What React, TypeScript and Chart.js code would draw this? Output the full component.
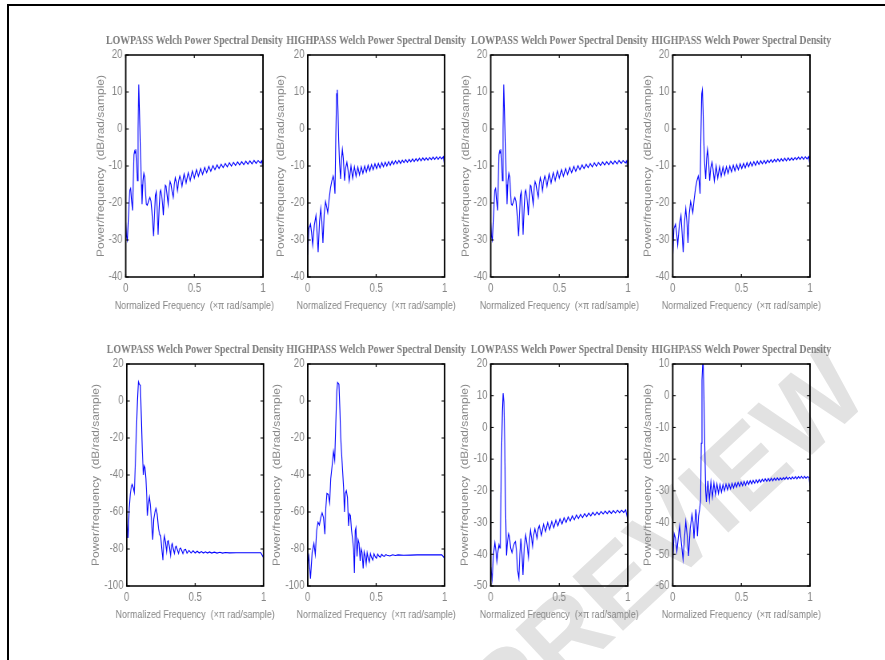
import { useEffect, useRef } from "react";
import { Chart, registerables } from "chart.js";

Chart.register(...registerables);

// ---------------- data ----------------
const xTickValues = [0, 0.5, 1];
const xTickLabels = ["0", "0.5", "1"];

const yTicksTop = [20, 10, 0, -10, -20, -30, -40];
const yTicksDeep = [20, 0, -20, -40, -60, -80, -100];
const yTicksLow = [20, 10, 0, -10, -20, -30, -40, -50];
const yTicksHigh = [10, 0, -10, -20, -30, -40, -50, -60];

const lowpassTitle = "LOWPASS Welch Power Spectral Density";
const highpassTitle = "HIGHPASS Welch Power Spectral Density";
const xAxisTitle = "Normalized Frequency  (\u00d7\u03c0 rad/sample)";
const yAxisTitle = "Power/frequency  (dB/rad/sample)";
const watermarkText = "PREVIEW";

// top row lowpass (panels 1 and 3)
const lpTopFreq = [
  0, 0.006, 0.012, 0.018, 0.024, 0.03, 0.036, 0.042, 0.049, 0.055, 0.06, 0.065, 0.069, 0.073, 0.079, 0.085,
  0.09, 0.095, 0.1, 0.108, 0.114, 0.119, 0.126, 0.132, 0.138, 0.144, 0.15, 0.156, 0.162, 0.168, 0.176, 0.184,
  0.19, 0.197, 0.203, 0.209, 0.216, 0.222, 0.228, 0.236, 0.243, 0.25, 0.254, 0.262, 0.268, 0.274, 0.281, 0.288,
  0.294, 0.302, 0.309, 0.316, 0.323, 0.33, 0.338, 0.346, 0.354, 0.361, 0.369, 0.377, 0.386, 0.394, 0.402, 0.41,
  0.425, 0.44, 0.455, 0.47, 0.485, 0.5, 0.515, 0.53, 0.545, 0.56, 0.575, 0.59, 0.605, 0.62, 0.635, 0.65,
  0.665, 0.68, 0.695, 0.71, 0.725, 0.74, 0.755, 0.77, 0.785, 0.8, 0.815, 0.83, 0.845, 0.86, 0.875, 0.89,
  0.905, 0.92, 0.935, 0.95, 0.965, 0.98, 0.99, 1.0,
];
const lpTopDb = [
  -25, -29, -30, -25, -20, -16.5, -16, -19, -22, -14, -7, -6, -6.5, -5.5, -10, -14,
  0, 12, 5, -8, -15, -20.3, -14, -12, -13, -17, -20.3, -20.6, -20, -19.2, -18.5, -19.5,
  -22, -26, -29, -24, -18, -17, -21, -28.6, -22, -17, -16.5, -18, -20, -23.3, -18, -15.2,
  -15.5, -18, -20.3, -16, -14.2, -15, -17, -18.5, -15, -13.2, -14.5, -16.7, -14, -12.7, -13.8, -15.5,
  -12.2, -14.6, -11.8, -14.0, -11.4, -13.3, -11.0, -12.8, -10.7, -12.3, -10.4, -11.8, -10.1, -11.4, -9.9, -11.0,
  -9.7, -10.7, -9.5, -10.4, -9.3, -10.2, -9.1, -10.0, -9.0, -9.8, -8.9, -9.7, -8.8, -9.6, -8.7, -9.5,
  -8.6, -9.4, -8.5, -9.3, -8.5, -9.2, -8.6, -10.5,
];

// top row highpass (panels 2 and 4)
const hpTopFreq = [
  0, 0.008, 0.02, 0.028, 0.036, 0.048, 0.06, 0.068, 0.076, 0.086, 0.095, 0.103, 0.111, 0.12, 0.13, 0.138,
  0.146, 0.156, 0.166, 0.176, 0.186, 0.192, 0.199, 0.205, 0.211, 0.216, 0.221, 0.226, 0.232, 0.24, 0.247, 0.253,
  0.26, 0.269, 0.277, 0.286, 0.294, 0.303, 0.316, 0.328, 0.341, 0.353, 0.366, 0.378, 0.391, 0.403, 0.416, 0.428,
  0.441, 0.453, 0.466, 0.478, 0.491, 0.503, 0.516, 0.528, 0.541, 0.553, 0.566, 0.578, 0.591, 0.603, 0.616, 0.628,
  0.641, 0.653, 0.666, 0.678, 0.691, 0.703, 0.716, 0.728, 0.741, 0.753, 0.766, 0.778, 0.791, 0.803, 0.816, 0.828,
  0.841, 0.853, 0.866, 0.878, 0.891, 0.903, 0.916, 0.928, 0.941, 0.953, 0.966, 0.978, 0.991, 1.0,
];
const hpTopDb = [
  -34, -27, -25.7, -28, -31.3, -26, -23.4, -28, -33.3, -25, -21.5, -25, -30.8, -23, -19.6, -21,
  -22.6, -19, -16, -14, -12.7, -14, -17.5, -2, 9.5, 10.6, 5, -3, -9, -13.5, -8, -5.5,
  -8, -14, -10.5, -9, -11, -14, -10, -13.3, -10.2, -12.8, -10.3, -12.4, -10.2, -12.0, -10.0, -11.6,
  -9.8, -11.3, -9.6, -11.0, -9.4, -10.7, -9.3, -10.5, -9.1, -10.2, -9.0, -10.0, -8.8, -9.8, -8.7, -9.6,
  -8.6, -9.4, -8.5, -9.3, -8.4, -9.1, -8.3, -9.0, -8.2, -8.9, -8.1, -8.8, -8.0, -8.7, -7.9, -8.6,
  -7.8, -8.5, -7.8, -8.4, -7.7, -8.3, -7.6, -8.2, -7.5, -8.2, -7.5, -8.1, -7.5, -10,
];

// bottom row lowpass, deep stopband (panel 5)
const lpDeepFreq = [
  0, 0.01, 0.018, 0.026, 0.034, 0.04, 0.048, 0.055, 0.062, 0.07, 0.078, 0.085, 0.092, 0.1, 0.107, 0.114,
  0.121, 0.128, 0.133, 0.14, 0.146, 0.15, 0.158, 0.165, 0.172, 0.182, 0.19, 0.197, 0.206, 0.214, 0.222, 0.232,
  0.24, 0.248, 0.256, 0.264, 0.27, 0.276, 0.284, 0.291, 0.298, 0.304, 0.312, 0.32, 0.327, 0.333, 0.34, 0.348,
  0.356, 0.362, 0.37, 0.378, 0.386, 0.394, 0.402, 0.41, 0.42, 0.43, 0.44, 0.455, 0.47, 0.485, 0.5, 0.515,
  0.53, 0.545, 0.56, 0.575, 0.59, 0.605, 0.62, 0.64, 0.66, 0.68, 0.7, 0.72, 0.75, 0.8, 0.9, 0.98, 1.0,
];
const lpDeepDb = [
  -63, -74, -58, -50, -46, -45, -47, -49.5, -35, -18, 0, 10.4, 9, 8.5, -10, -28,
  -40, -35, -36, -42, -52, -62, -56, -52, -56, -66, -75, -64, -60, -58, -61, -69,
  -72, -73, -80, -86, -76, -73, -77, -81.5, -76, -75.5, -79, -83.5, -78, -77, -80, -82.5,
  -79, -78.5, -80.5, -82.5, -80, -79.5, -81, -82.5, -80.5, -80.2, -82.3, -80.8, -82.2, -81, -82.2, -81.2,
  -82.2, -81.4, -82.2, -81.5, -82.2, -81.6, -82.2, -81.7, -82.2, -81.8, -82.2, -81.9, -82.1, -82.0, -82.0, -82.0, -85,
];

// bottom row highpass, deep stopband (panel 6)
const hpDeepFreq = [
  0, 0.008, 0.02, 0.032, 0.045, 0.055, 0.065, 0.075, 0.085, 0.095, 0.105, 0.115, 0.125, 0.132, 0.14, 0.15,
  0.16, 0.168, 0.178, 0.188, 0.197, 0.205, 0.212, 0.218, 0.228, 0.235, 0.241, 0.247, 0.255, 0.262, 0.268, 0.274,
  0.282, 0.29, 0.298, 0.305, 0.312, 0.32, 0.328, 0.335, 0.341, 0.347, 0.352, 0.36, 0.368, 0.375, 0.383, 0.39,
  0.397, 0.405, 0.412, 0.42, 0.427, 0.434, 0.442, 0.45, 0.458, 0.466, 0.475, 0.484, 0.493, 0.502, 0.511, 0.52,
  0.53, 0.54, 0.55, 0.56, 0.57, 0.58, 0.6, 0.62, 0.64, 0.66, 0.7, 0.75, 0.8, 0.9, 0.98, 1.0,
];
const hpDeepDb = [
  -88, -84, -96, -82, -77, -83, -70, -65.5, -67, -63, -60.5, -63, -72, -58, -50, -50.5,
  -55, -42, -35, -27.3, -32, -12, 5, 10, 9, -5, -20, -27.7, -38, -47, -60, -50,
  -48.5, -52, -67.5, -61, -62, -70, -75, -80, -93, -70, -68.5, -84, -75, -77, -86.5, -80,
  -82, -90.5, -81.5, -84, -88, -82, -85, -87, -82.5, -84.5, -86, -82.6, -84.2, -85, -82.8, -83.8,
  -84.4, -82.9, -83.6, -84, -83, -83.4, -83.8, -83.1, -83.5, -83.2, -83.4, -83.3, -83.2, -83.2, -83.2, -85,
];

// bottom row lowpass, lower level (panel 7)
const lpLowFreq = [
  0, 0.01, 0.02, 0.03, 0.038, 0.045, 0.053, 0.06, 0.066, 0.07, 0.078, 0.085, 0.09, 0.096, 0.102, 0.108,
  0.115, 0.122, 0.13, 0.137, 0.145, 0.155, 0.163, 0.172, 0.18, 0.188, 0.196, 0.205, 0.212, 0.22, 0.228, 0.235,
  0.244, 0.255, 0.265, 0.275, 0.283, 0.29, 0.298, 0.305, 0.313, 0.322, 0.33, 0.338, 0.346, 0.354, 0.362, 0.37,
  0.385, 0.4, 0.415, 0.43, 0.445, 0.46, 0.475, 0.49, 0.505, 0.52, 0.535, 0.55, 0.565, 0.58, 0.595, 0.61,
  0.625, 0.64, 0.655, 0.67, 0.685, 0.7, 0.715, 0.73, 0.745, 0.76, 0.775, 0.79, 0.805, 0.82, 0.835, 0.85,
  0.865, 0.88, 0.895, 0.91, 0.925, 0.94, 0.955, 0.97, 0.985, 1.0,
];
const lpLowDb = [
  -44, -48, -40, -36.4, -39, -42.3, -39, -37, -38, -36, -10, 5, 10.8, 8, -5, -25,
  -40.4, -36, -33.5, -34.5, -38, -39.5, -38, -36.5, -36, -39, -45, -47.5, -40, -35, -40, -46.5,
  -38, -34, -37, -41, -35.5, -32.5, -35, -37.5, -34, -32, -33.5, -35, -32, -31, -32.5, -34,
  -30.5, -32.8, -30.0, -32.2, -29.6, -31.6, -29.2, -31.0, -28.8, -30.4, -28.5, -29.9, -28.2, -29.5, -27.9, -29.1,
  -27.6, -28.7, -27.4, -28.4, -27.2, -28.1, -27.0, -27.9, -26.8, -27.7, -26.7, -27.5, -26.5, -27.3, -26.4, -27.2,
  -26.3, -27.1, -26.2, -27.0, -26.1, -26.9, -26.1, -26.8, -26.0, -29,
];

// bottom row highpass, lower level (panel 8)
const hpLowFreq = [
  0, 0.01, 0.02, 0.03, 0.04, 0.05, 0.062, 0.075, 0.085, 0.095, 0.105, 0.115, 0.127, 0.14, 0.148, 0.155,
  0.162, 0.168, 0.173, 0.18, 0.188, 0.195, 0.203, 0.208, 0.213, 0.218, 0.222, 0.227, 0.233, 0.24, 0.245, 0.256,
  0.267, 0.278, 0.289, 0.3, 0.311, 0.322, 0.333, 0.344, 0.355, 0.366, 0.377, 0.388, 0.399, 0.41, 0.421, 0.432,
  0.443, 0.454, 0.465, 0.476, 0.487, 0.498, 0.509, 0.52, 0.531, 0.542, 0.553, 0.564, 0.575, 0.586, 0.597, 0.608,
  0.619, 0.63, 0.641, 0.652, 0.663, 0.674, 0.685, 0.696, 0.707, 0.718, 0.729, 0.74, 0.751, 0.762, 0.773, 0.784,
  0.795, 0.806, 0.817, 0.828, 0.839, 0.85, 0.861, 0.872, 0.883, 0.894, 0.905, 0.916, 0.927, 0.938, 0.949, 0.96,
  0.971, 0.982, 0.993, 1.0,
];
const hpLowDb = [
  -51.5, -43.5, -45, -49, -45, -41, -46, -51.6, -45, -39.7, -44, -50.5, -42, -37.5, -40, -45,
  -40, -35.8, -38, -44.3, -38, -36, -33, -15, 5, 10, 10, 0, -15, -30, -33.5, -26.8,
  -32.8, -27.2, -32.0, -27.5, -31.2, -27.8, -30.8, -28.0, -30.4, -28.0, -30.0, -27.9, -29.7, -27.8, -29.4, -27.6,
  -29.1, -27.5, -28.8, -27.3, -28.6, -27.2, -28.4, -27.0, -28.2, -26.9, -28.0, -26.8, -27.8, -26.7, -27.6, -26.5,
  -27.4, -26.4, -27.3, -26.3, -27.1, -26.2, -27.0, -26.1, -26.9, -26.0, -26.8, -26.0, -26.7, -25.9, -26.6, -25.9,
  -26.5, -25.8, -26.4, -25.7, -26.4, -25.7, -26.3, -25.6, -26.2, -25.5, -26.2, -25.5, -26.1, -25.4, -26.1, -25.4,
  -26.0, -25.5, -25.8, -28.5,
];

// ---------------- layout ----------------
const SQ = 0.8; // the reference is squashed horizontally
const PLOT_W = 137;
const PLOT_H = 222;
const PAD_T = 25;
const PAD_R = 34;
const X_AXIS_H = 38;
const TEXT_GRAY = "#858585";
const TITLE_GRAY = "#7b7b7b";
const SANS = '"Liberation Sans", Arial, sans-serif';

type Spec = {
  title: string;
  freq: number[];
  db: number[];
  yTicks: number[];
  left: number;
  top: number;
  yOff: number;
};

const specs: Spec[] = [
  { title: lowpassTitle, freq: lpTopFreq, db: lpTopDb, yTicks: yTicksTop, left: 126, top: 55, yOff: 25 },
  { title: highpassTitle, freq: hpTopFreq, db: hpTopDb, yTicks: yTicksTop, left: 308, top: 55, yOff: 27 },
  { title: lowpassTitle, freq: lpTopFreq, db: lpTopDb, yTicks: yTicksTop, left: 491, top: 55, yOff: 25 },
  { title: highpassTitle, freq: hpTopFreq, db: hpTopDb, yTicks: yTicksTop, left: 673, top: 55, yOff: 25 },
  { title: lowpassTitle, freq: lpDeepFreq, db: lpDeepDb, yTicks: yTicksDeep, left: 127, top: 364, yOff: 31 },
  { title: highpassTitle, freq: hpDeepFreq, db: hpDeepDb, yTicks: yTicksDeep, left: 308, top: 364, yOff: 31 },
  { title: lowpassTitle, freq: lpLowFreq, db: lpLowDb, yTicks: yTicksLow, left: 491, top: 364, yOff: 26 },
  { title: highpassTitle, freq: hpLowFreq, db: hpLowDb, yTicks: yTicksHigh, left: 673, top: 364, yOff: 25 },
];

const framePlugin = {
  id: "matlabFrame",
  afterDatasetsDraw(chart: any, _args: any, opts: any) {
    const { ctx, chartArea } = chart;
    const { left, right, top, bottom } = chartArea;
    const xs = chart.scales.x;
    const ys = chart.scales.y;
    ctx.save();
    ctx.strokeStyle = "#000";
    ctx.lineWidth = 1.5;
    ctx.beginPath();
    ctx.moveTo(left - 1, top);
    ctx.lineTo(right + 1, top);
    ctx.moveTo(left - 1, bottom);
    ctx.lineTo(right + 1, bottom);
    ctx.stroke();
    ctx.lineWidth = 1.5 / SQ;
    ctx.beginPath();
    ctx.moveTo(left, top);
    ctx.lineTo(left, bottom);
    ctx.moveTo(right, top);
    ctx.lineTo(right, bottom);
    ctx.stroke();
    ctx.lineWidth = 1;
    ctx.beginPath();
    for (const t of ys.ticks) {
      const py = ys.getPixelForValue(t.value);
      ctx.moveTo(left, py);
      ctx.lineTo(left + 3 / SQ, py);
      ctx.moveTo(right, py);
      ctx.lineTo(right - 3 / SQ, py);
    }
    ctx.stroke();
    ctx.lineWidth = 1 / SQ;
    ctx.beginPath();
    for (const t of xs.ticks) {
      const px = xs.getPixelForValue(t.value);
      ctx.moveTo(px, bottom);
      ctx.lineTo(px, bottom - 3);
      ctx.moveTo(px, top);
      ctx.lineTo(px, top + 3);
    }
    ctx.stroke();
    ctx.fillStyle = TITLE_GRAY;
    ctx.font = 'bold 12.3px "Liberation Serif", "Times New Roman", serif';
    ctx.textAlign = "center";
    ctx.textBaseline = "middle";
    ctx.fillText(opts.text, (left + right) / 2, top - 14);
    ctx.fillStyle = TEXT_GRAY;
    ctx.font = `11.2px ${SANS}`;
    ctx.fillText(opts.xTitle, (left + right) / 2, bottom + 29);
    ctx.restore();
  },
};

function Panel({ spec }: { spec: Spec }) {
  const ref = useRef<HTMLCanvasElement | null>(null);
  const yScaleW = spec.yOff / SQ + 7.2;
  const cw = Math.round(yScaleW + PLOT_W / SQ + PAD_R);
  const ch = Math.round(PAD_T + PLOT_H + X_AXIS_H);

  useEffect(() => {
    const canvas = ref.current;
    if (!canvas) return;
    const tickFont = { family: SANS, size: 12 };
    const chart = new Chart(canvas, {
      type: "line",
      data: {
        datasets: [
          {
            data: spec.freq.map((f, i) => ({ x: f, y: spec.db[i] })),
            borderColor: "#0000ff",
            borderWidth: 1.1,
            pointRadius: 0,
            tension: 0,
            fill: false,
          },
        ],
      },
      options: {
        animation: false,
        responsive: false,
        devicePixelRatio: 1,
        events: [],
        layout: { padding: { top: PAD_T, right: PAD_R, left: 0, bottom: 0 } },
        plugins: {
          legend: { display: false },
          tooltip: { enabled: false },
          title: { display: false },
          matlabFrame: { text: spec.title, xTitle: xAxisTitle },
        } as any,
        scales: {
          x: {
            type: "linear",
            min: 0,
            max: 1,
            afterBuildTicks: (s: any) => {
              s.ticks = xTickValues.map((v) => ({ value: v }));
            },
            afterFit: (s: any) => {
              s.height = X_AXIS_H;
            },
            ticks: {
              color: TEXT_GRAY,
              font: tickFont,
              padding: 4,
              maxRotation: 0,
              autoSkip: false,
              callback: (v: any) => xTickLabels[xTickValues.indexOf(Number(v))] ?? "",
            },
            grid: { display: false, drawTicks: false, tickLength: 0 },
            border: { display: false },
            title: { display: false },
          },
          y: {
            type: "linear",
            min: spec.yTicks[spec.yTicks.length - 1],
            max: spec.yTicks[0],
            afterBuildTicks: (s: any) => {
              s.ticks = spec.yTicks.map((v) => ({ value: v }));
            },
            afterFit: (s: any) => {
              s.width = yScaleW;
            },
            ticks: {
              color: TEXT_GRAY,
              font: tickFont,
              padding: 4,
              autoSkip: false,
              callback: (v: any) => String(v),
            },
            grid: { display: false, drawTicks: false, tickLength: 0 },
            border: { display: false },
            title: {
              display: true,
              text: yAxisTitle,
              color: TEXT_GRAY,
              font: { family: SANS, size: 12 },
              padding: 0,
            },
          },
        },
      } as any,
      plugins: [framePlugin],
    });
    return () => chart.destroy();
  }, []);

  return (
    <canvas
      ref={ref}
      width={cw}
      height={ch}
      style={{
        position: "absolute",
        left: spec.left - yScaleW * SQ,
        top: spec.top - PAD_T,
        width: cw,
        height: ch,
        transform: `scaleX(${SQ})`,
        transformOrigin: "0 0",
      }}
    />
  );
}

function Watermark() {
  const ref = useRef<HTMLCanvasElement | null>(null);
  useEffect(() => {
    const c = ref.current;
    if (!c) return;
    const ctx = c.getContext("2d");
    if (!ctx) return;
    ctx.clearRect(0, 0, c.width, c.height);
    ctx.save();
    ctx.translate(508, 738);
    ctx.rotate((-43 * Math.PI) / 180);
    ctx.fillStyle = "#e2e2e2";
    ctx.font = `bold 108px ${SANS}`;
    ctx.textAlign = "left";
    ctx.textBaseline = "alphabetic";
    ctx.fillText(watermarkText, 0, 0);
    ctx.restore();
  }, []);
  return (
    <canvas ref={ref} width={885} height={660} style={{ position: "absolute", left: 0, top: 0 }} />
  );
}

export default function App() {
  return (
    <div
      style={{
        position: "absolute",
        left: 0,
        top: 0,
        width: 885,
        height: 660,
        background: "#fff",
        overflow: "hidden",
      }}
    >
      <Watermark />
      <div style={{ position: "absolute", left: 7, top: 4, width: 878, height: 2, background: "#000" }} />
      <div style={{ position: "absolute", left: 7, top: 4, width: 2, height: 656, background: "#000" }} />
      {specs.map((s, i) => (
        <Panel key={i} spec={s} />
      ))}
    </div>
  );
}
